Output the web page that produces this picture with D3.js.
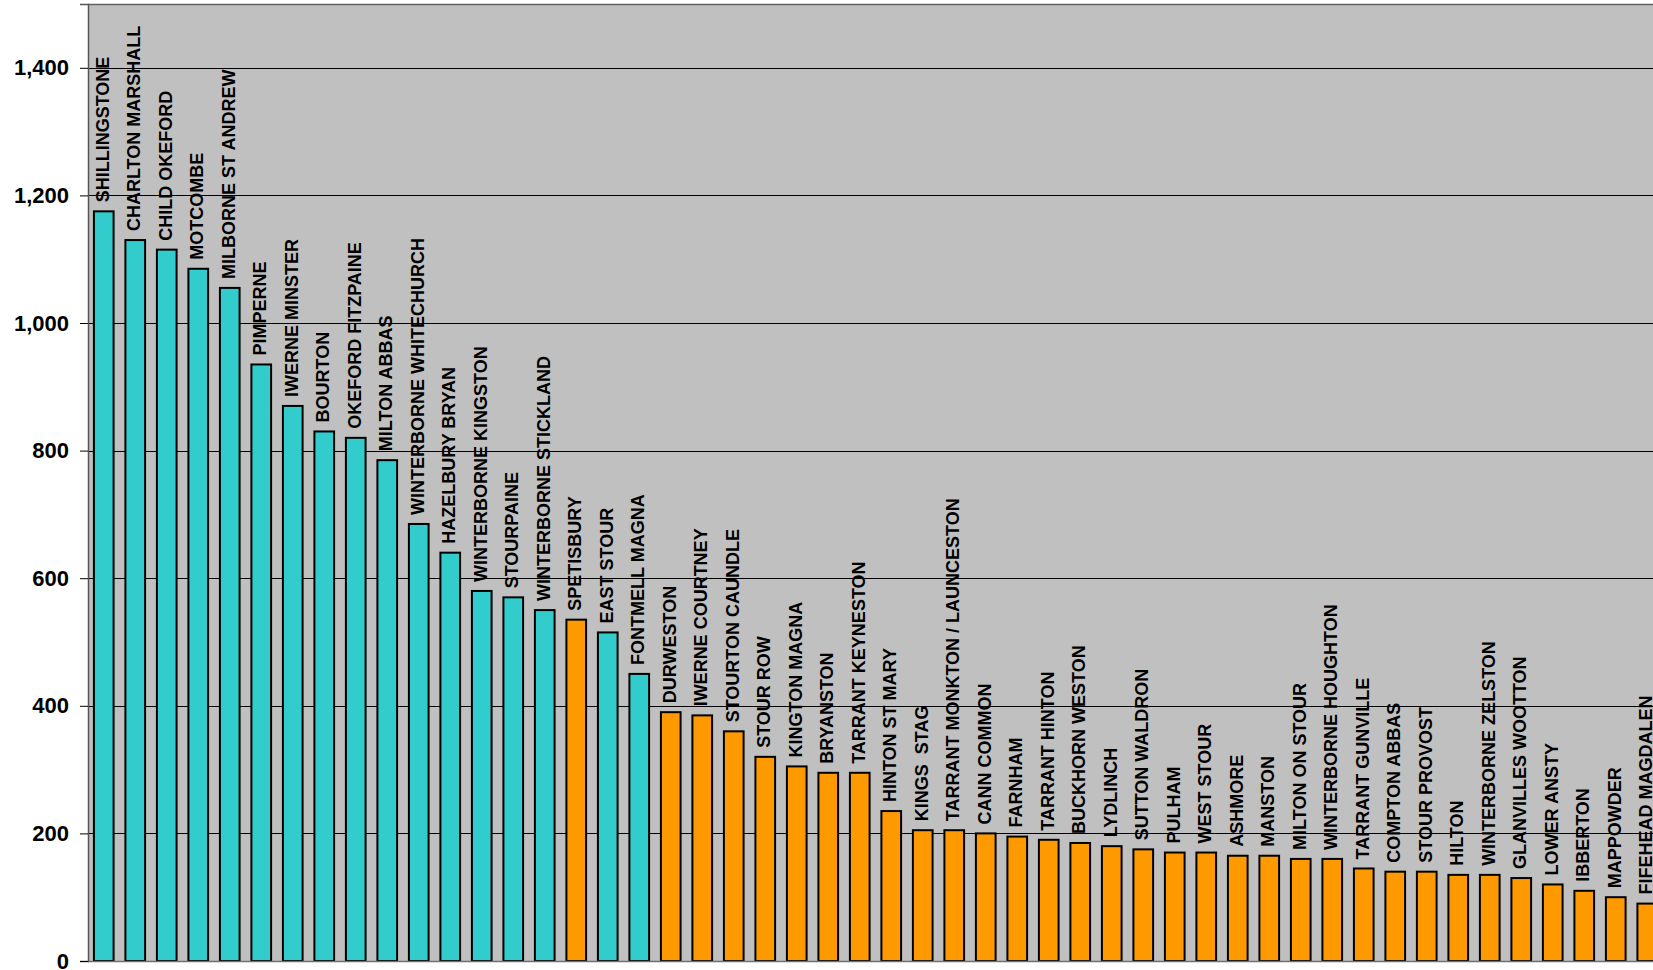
<!DOCTYPE html>
<html>
<head>
<meta charset="utf-8">
<script src="https://cdn.jsdelivr.net/npm/d3@7/dist/d3.min.js"></script>
<style>
  html, body { margin: 0; padding: 0; background: #ffffff; overflow: hidden; }
  svg { display: block; }
</style>
</head>
<body>
<svg id="chart" width="1653" height="970"></svg>
<script>
const categories = [
  "SHILLINGSTONE", "CHARLTON MARSHALL", "CHILD OKEFORD", "MOTCOMBE", "MILBORNE ST ANDREW",
  "PIMPERNE", "IWERNE MINSTER", "BOURTON", "OKEFORD FITZPAINE", "MILTON ABBAS",
  "WINTERBORNE WHITECHURCH", "HAZELBURY BRYAN", "WINTERBORNE KINGSTON", "STOURPAINE", "WINTERBORNE STICKLAND",
  "SPETISBURY", "EAST STOUR", "FONTMELL MAGNA", "DURWESTON", "IWERNE COURTNEY",
  "STOURTON CAUNDLE", "STOUR ROW", "KINGTON MAGNA", "BRYANSTON", "TARRANT KEYNESTON",
  "HINTON ST MARY", "KINGS  STAG", "TARRANT MONKTON / LAUNCESTON", "CANN COMMON", "FARNHAM",
  "TARRANT HINTON", "BUCKHORN WESTON", "LYDLINCH", "SUTTON WALDRON", "PULHAM",
  "WEST STOUR", "ASHMORE", "MANSTON", "MILTON ON STOUR", "WINTERBORNE HOUGHTON",
  "TARRANT GUNVILLE", "COMPTON ABBAS", "STOUR PROVOST", "HILTON", "WINTERBORNE ZELSTON",
  "GLANVILLES WOOTTON", "LOWER ANSTY", "IBBERTON", "MAPPOWDER", "FIFEHEAD MAGDALEN"
];
const values = [
  1175, 1130, 1115, 1085, 1055,
  935, 870, 830, 820, 785,
  685, 640, 580, 570, 550,
  535, 515, 450, 390, 385,
  360, 320, 305, 295, 295,
  235, 205, 205, 200, 195,
  190, 185, 180, 175, 170,
  170, 165, 165, 160, 160,
  145, 140, 140, 135, 135,
  130, 120, 110, 100, 90
];
// group: "A" = teal bars, "B" = orange bars
const groups = [
  "A","A","A","A","A",
  "A","A","A","A","A",
  "A","A","A","A","A",
  "B","A","A","B","B",
  "B","B","B","B","B",
  "B","B","B","B","B",
  "B","B","B","B","B",
  "B","B","B","B","B",
  "B","B","B","B","B",
  "B","B","B","B","B"
];
const yTicks = [0, 200, 400, 600, 800, 1000, 1200, 1400];
const yMax = 1500;

const data = categories.map((c, i) => ({ name: c, value: values[i], group: groups[i] }));

const svg = d3.select("#chart");
const plotLeft = 88, plotTop = 4, plotBottom = 961, stepPx = 31.5;
const plotRight = plotLeft + categories.length * stepPx;

const x = d3.scaleBand().domain(categories).range([plotLeft, plotRight])
  .paddingInner(0.375).paddingOuter(0.1875);
const y = d3.scaleLinear().domain([0, yMax]).range([plotBottom, plotTop]);
const color = d3.scaleOrdinal().domain(["A", "B"]).range(["#33CCCC", "#FF9900"]);

// plot background
svg.append("rect")
  .attr("x", plotLeft).attr("y", plotTop)
  .attr("width", plotRight - plotLeft).attr("height", plotBottom - plotTop)
  .attr("fill", "#C0C0C0");

// gridlines
svg.append("g").selectAll("line")
  .data(yTicks.filter(t => t > 0))
  .join("line")
  .attr("x1", plotLeft).attr("x2", plotRight)
  .attr("y1", d => Math.round(y(d)) + 0.5).attr("y2", d => Math.round(y(d)) + 0.5)
  .attr("stroke", "#000").attr("stroke-width", 1);

// top border
svg.append("line")
  .attr("x1", plotLeft).attr("x2", plotRight)
  .attr("y1", plotTop + 0.5).attr("y2", plotTop + 0.5)
  .attr("stroke", "#606060").attr("stroke-width", 1.5);

// bars
svg.append("g").selectAll("rect")
  .data(data)
  .join("rect")
  .attr("x", d => x(d.name))
  .attr("y", d => y(d.value))
  .attr("width", x.bandwidth())
  .attr("height", d => y(0) - y(d.value))
  .attr("fill", d => color(d.group))
  .attr("stroke", "#000")
  .attr("stroke-width", 2);

// bottom axis line
svg.append("line")
  .attr("x1", plotLeft).attr("x2", plotRight)
  .attr("y1", plotBottom + 0.5).attr("y2", plotBottom + 0.5)
  .attr("stroke", "#707070").attr("stroke-width", 1.5);

// y axis
const yAxis = d3.axisLeft(y).tickValues(yTicks).tickFormat(d3.format(",")).tickSize(8).tickPadding(11);
const gy = svg.append("g").attr("transform", `translate(${plotLeft},0)`).call(yAxis);
gy.select(".domain").attr("stroke", "#555").attr("stroke-width", 1.5);
gy.selectAll(".tick line").attr("stroke", "#000");
gy.selectAll(".tick text")
  .attr("font-family", "'Liberation Sans', Arial, sans-serif")
  .attr("font-weight", "bold")
  .attr("font-size", 22)
  .attr("fill", "#000");

// bar labels
svg.append("g").selectAll("text")
  .data(data)
  .join("text")
  .attr("transform", d => `translate(${x(d.name) + x.bandwidth() / 2 + 5},${y(d.value) - 9}) rotate(-90)`)
  .attr("text-anchor", "start")
  .attr("font-family", "'Liberation Sans', Arial, sans-serif")
  .attr("font-weight", "bold")
  .attr("font-size", 18)
  .attr("fill", "#000")
  .style("white-space", "pre")
  .text(d => d.name);
</script>
</body>
</html>
